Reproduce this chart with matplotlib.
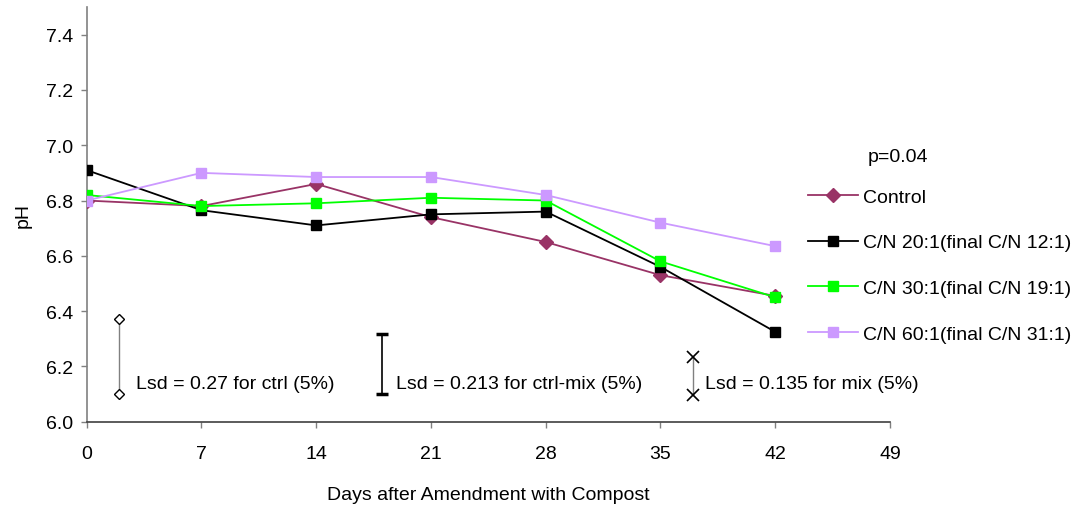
import matplotlib
matplotlib.use("Agg")
import matplotlib.pyplot as plt

plt.rcParams['font.family'] = ['Liberation Sans', 'DejaVu Sans']

days = [0, 7, 14, 21, 28, 35, 42]
control = [6.80, 6.78, 6.86, 6.74, 6.65, 6.53, 6.455]
cn20 = [6.91, 6.765, 6.71, 6.75, 6.76, 6.56, 6.325]
cn30 = [6.82, 6.78, 6.79, 6.81, 6.80, 6.58, 6.45]
cn60 = [6.80, 6.90, 6.885, 6.885, 6.82, 6.72, 6.635]

series_labels = ["Control", "C/N 20:1(final C/N 12:1)",
                 "C/N 30:1(final C/N 19:1)", "C/N 60:1(final C/N 31:1)"]
series_colors = ["#993366", "#000000", "#00FF00", "#CC99FF"]
series_markers = ["D", "s", "s", "s"]

# LSD bars
lsd_days = [2, 18, 37]
lsd_low = [6.10, 6.10, 6.095]
lsd_high = [6.37, 6.317, 6.235]
lsd_labels = ["Lsd = 0.27 for ctrl (5%)", "Lsd = 0.213 for ctrl-mix (5%)",
              "Lsd = 0.135 for mix (5%)"]

xticks = [0, 7, 14, 21, 28, 35, 42, 49]
yticks = [6.0, 6.2, 6.4, 6.6, 6.8, 7.0, 7.2, 7.4]

FS = 14

fig = plt.figure(figsize=(10.81, 5.06), dpi=100)
ax = fig.add_axes([0.0802, 0.1646, 0.7431, 0.8196])

data = [control, cn20, cn30, cn60]
handles = []
for vals, lab, col, mk in zip(data, series_labels, series_colors, series_markers):
    ms = 7.5 if mk == "D" else 7
    h, = ax.plot(days, vals, color=col, marker=mk, markersize=ms, linewidth=1.3,
                 markeredgecolor=col, markerfacecolor=col, label=lab, zorder=3)
    handles.append(h)

# LSD 1: hollow diamonds, grey line
ax.plot([lsd_days[0]] * 2, [lsd_low[0], lsd_high[0]], color="#808080", linewidth=1.0, zorder=2)
ax.plot([lsd_days[0]] * 2, [lsd_low[0], lsd_high[0]], linestyle="none", marker="D",
        markersize=5.5, markerfacecolor="white", markeredgecolor="black",
        markeredgewidth=1.0, zorder=3)
# LSD 2: black line with caps
ax.plot([lsd_days[1]] * 2, [lsd_low[1], lsd_high[1]], color="black", linewidth=1.2,
        marker="_", markersize=9, markeredgewidth=2.5, zorder=3)
# LSD 3: grey line with x markers
ax.plot([lsd_days[2]] * 2, [lsd_low[2], lsd_high[2]], color="#808080", linewidth=1.0, zorder=2)
ax.plot([lsd_days[2]] * 2, [lsd_low[2], lsd_high[2]], linestyle="none", marker="x",
        markersize=8, markeredgecolor="black", markeredgewidth=1.2, zorder=3)

text_offsets = [1.0, 0.85, 0.7]
for d, lab, off in zip(lsd_days, lsd_labels, text_offsets):
    ax.text(d + off, 6.14, lab, fontsize=FS, va="center", ha="left")

ax.set_xlim(0, 49)
ax.set_ylim(6.0, 7.5)
ax.set_xticks(xticks)
ax.set_xticklabels([str(t) for t in xticks])
ax.set_yticks(yticks)
ax.set_yticklabels([f"{t:.1f}" for t in yticks])
ax.tick_params(axis="both", labelsize=FS, length=4, width=1, color="#808080", direction="out")
ax.tick_params(axis="x", pad=13)
ax.tick_params(axis="y", pad=6)

for s in ["top", "right"]:
    ax.spines[s].set_visible(False)
ax.spines["left"].set_color("#808080")
ax.spines["bottom"].set_color("#404040")
ax.spines["left"].set_linewidth(1.2)
ax.spines["bottom"].set_linewidth(1.2)

ax.set_xlabel("Days after Amendment with Compost", fontsize=FS, labelpad=17)
ax.set_ylabel("pH", fontsize=FS, labelpad=10)

fig.text(868 / 1081, 1 - 158 / 506, "p=0.04", fontsize=FS, ha="left", va="center")

leg = fig.legend(handles=handles, labels=series_labels, loc="upper left",
                 bbox_to_anchor=(808 / 1081, 1 - 189 / 506), frameon=False,
                 fontsize=FS, handlelength=2.57, handletextpad=0.26, labelspacing=1.45,
                 borderaxespad=0, borderpad=0)

fig.savefig("out.png", dpi=100)
